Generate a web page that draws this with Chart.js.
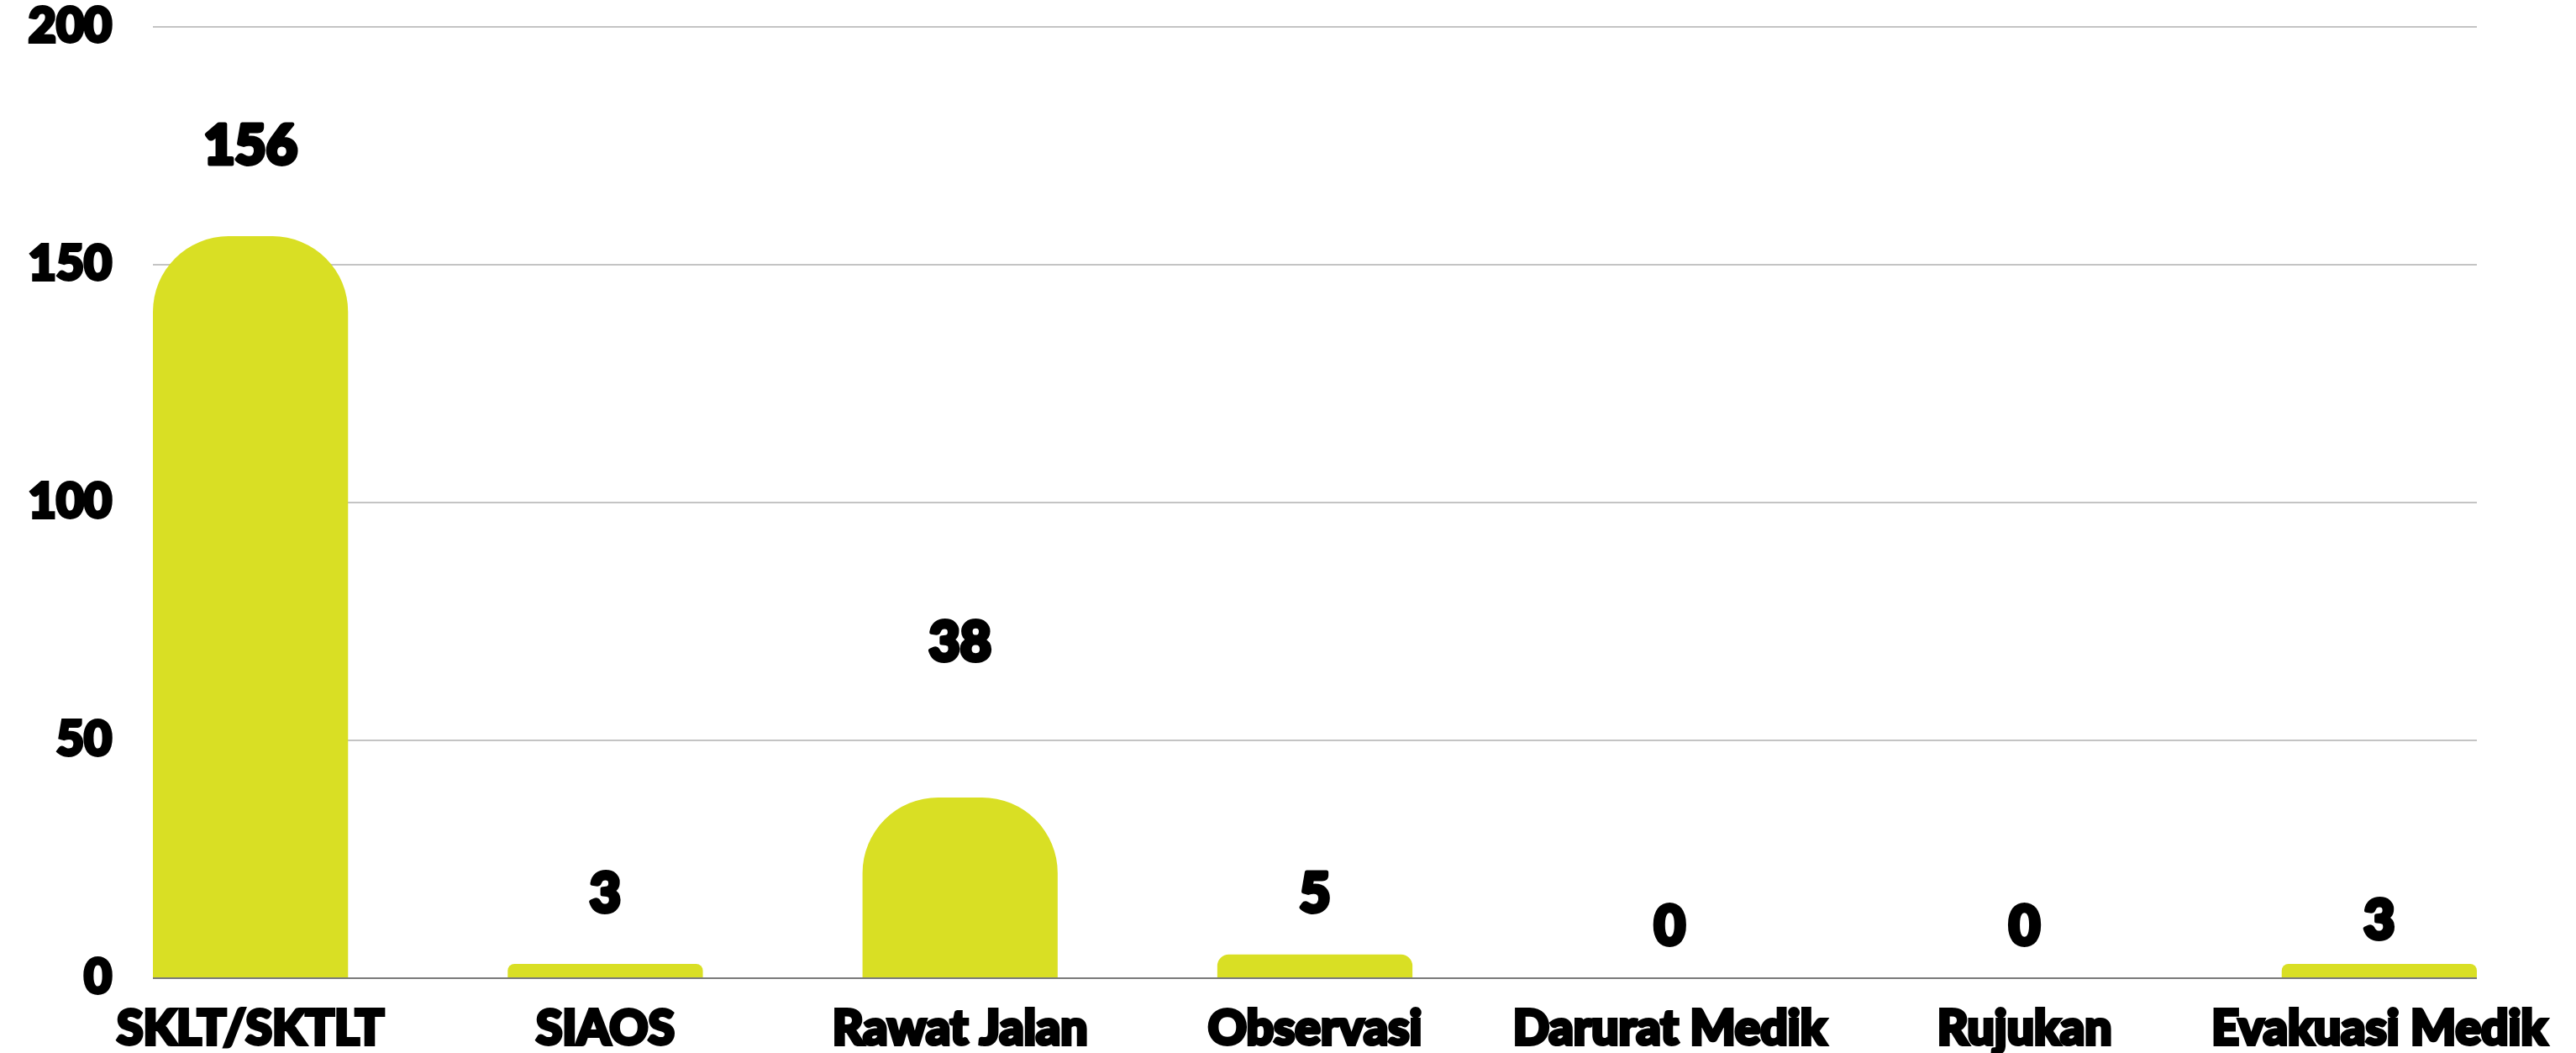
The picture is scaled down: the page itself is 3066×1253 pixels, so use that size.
<!DOCTYPE html>
<html>
<head>
<meta charset="utf-8">
<script src="https://cdn.jsdelivr.net/npm/chart.js@4/dist/chart.umd.min.js"></script>
<style>
  html, body { margin: 0; padding: 0; background: #ffffff; }
  #wrap { position: relative; width: 3066px; height: 1253px; }
</style>
</head>
<body>
<div id="wrap"><canvas id="c"></canvas></div>
<script>
// ---- data ----
const categories = ["SKLT/SKTLT", "SIAOS", "Rawat Jalan", "Observasi", "Darurat Medik", "Rujukan", "Evakuasi Medik"];
const values = [156, 3, 38, 5, 0, 0, 3];
const yTicks = [0, 50, 100, 150, 200];

// ---- styling ----
const FONT = "Lato, 'DejaVu Sans', sans-serif";
const barColor = "#d9df24";
const labelLift = [107, 83, 184, 71, 61, 61, 51]; // px above bar top for value labels

const valueLabels = {
  id: "valueLabels",
  afterDatasetsDraw(chart) {
    const ctx = chart.ctx;
    const meta = chart.getDatasetMeta(0);
    ctx.save();
    ctx.font = "900 64px " + FONT;
    ctx.fillStyle = "#000000";
    ctx.strokeStyle = "#000000";
    ctx.lineWidth = 5;
    ctx.lineJoin = "round";
    ctx.textAlign = "center";
    ctx.textBaseline = "middle";
    meta.data.forEach((bar, i) => {
      const y = bar.y - labelLift[i];
      ctx.strokeText(String(values[i]), bar.x, y);
      ctx.fillText(String(values[i]), bar.x, y);
    });
    ctx.restore();
  }
};

new Chart(document.getElementById("c"), {
  type: "bar",
  data: {
    datasets: [{
      data: values.map((v, i) => ({ x: i, y: v })),
      backgroundColor: barColor,
      borderWidth: 0,
      borderSkipped: "start",
      borderRadius: { topLeft: 90, topRight: 90, bottomLeft: 0, bottomRight: 0 },
      categoryPercentage: 1,
      barPercentage: 0.55
    }]
  },
  options: {
    responsive: true,
    maintainAspectRatio: false,
    animation: false,
    layout: { padding: { left: 0, right: 118, top: 32, bottom: 0 } },
    plugins: { legend: { display: false }, tooltip: { enabled: false } },
    scales: {
      x: {
        type: "linear",
        offset: false,
        min: -0.275,
        max: categories.length - 1 + 0.275,
        afterBuildTicks(scale) { scale.ticks = categories.map((_, i) => ({ value: i })); },
        afterFit(scale) {
          scale.height = 89;
          scale.paddingLeft = 0; scale.paddingRight = 0;
          scale.paddingTop = 0; scale.paddingBottom = 0;
        },
        grid: { display: false, drawTicks: false, offset: false },
        border: { display: false },
        ticks: {
          autoSkip: false,
          maxRotation: 0,
          minRotation: 0,
          padding: 26,
          color: "#000000",
          textStrokeColor: "#000000",
          textStrokeWidth: 4,
          font: { family: FONT, size: 57, weight: 900, lineHeight: 1.2 },
          callback: (v) => categories[Math.round(v)]
        }
      },
      y: {
        min: 0,
        max: 200,
        afterBuildTicks(scale) { scale.ticks = yTicks.map(v => ({ value: v })); },
        afterFit(scale) {
          scale.width = 182;
          scale.paddingTop = 0; scale.paddingBottom = 0;
          scale.paddingLeft = 0; scale.paddingRight = 0;
        },
        grid: {
          drawTicks: false,
          lineWidth: 2,
          color: (c) => (c.tick && c.tick.value === 0) ? "#7a7a7a" : "#c4c4c4"
        },
        border: { display: false },
        ticks: {
          padding: 49,
          color: "#000000",
          textStrokeColor: "#000000",
          textStrokeWidth: 4,
          font: { family: FONT, size: 57, weight: 900, lineHeight: 1 }
        }
      }
    }
  },
  plugins: [valueLabels]
});
</script>
</body>
</html>
